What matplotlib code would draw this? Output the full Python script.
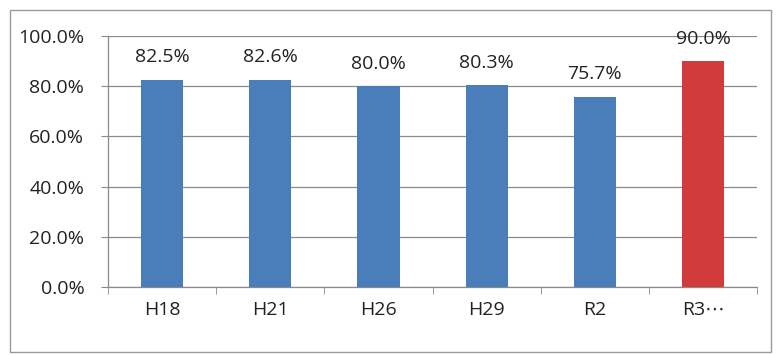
import matplotlib
matplotlib.use('Agg')
import matplotlib.pyplot as plt
from matplotlib.patches import Rectangle
from matplotlib.ticker import FuncFormatter, MultipleLocator

# survey years and rates (%)
categories = ['H18', 'H21', 'H26', 'H29', 'R2', 'R3⋯']
values = [82.5, 82.6, 80.0, 80.3, 75.7, 90.0]
bar_colors = ['#4A7EBB'] * 5 + ['#D13B3B']

plt.rcParams['font.family'] = ['Open Sans', 'DejaVu Sans']
FS = 14

fig = plt.figure(figsize=(7.79, 3.55), dpi=100)
fig.patch.set_facecolor('white')
ax = fig.add_axes([0.1386, 0.1915, 0.8334, 0.7071])

x = range(len(categories))
bars = ax.bar(x, values, width=0.39, color=bar_colors, zorder=3)

for b, v in zip(bars, values):
    ax.text(b.get_x() + b.get_width() / 2, v + 9.0, f'{v:.1f}%',
            ha='center', va='center', fontsize=FS, color='#222222', zorder=4)

ax.set_xlim(-0.5, len(categories) - 0.5)
ax.set_ylim(0, 100)
ax.yaxis.set_major_locator(MultipleLocator(20))
ax.yaxis.set_major_formatter(FuncFormatter(lambda v, _: f'{v:.1f}%'))
ax.set_xticks(list(x))
ax.set_xticklabels(categories)
ax.set_xticks([i + 0.5 for i in range(-1, len(categories))], minor=True)

ax.grid(axis='y', color='#8a8a8a', lw=0.9, zorder=1)
ax.tick_params(axis='y', length=5, color='#8a8a8a', labelsize=FS,
               labelcolor='#222222', pad=12)
ax.tick_params(axis='x', which='major', length=0, labelsize=FS,
               labelcolor='#222222', pad=10)
ax.tick_params(axis='x', which='minor', length=5, color='#8a8a8a')

for side in ['top', 'right']:
    ax.spines[side].set_visible(False)
for side in ['left', 'bottom']:
    ax.spines[side].set_color('#8a8a8a')
    ax.spines[side].set_linewidth(0.9)

# outer chart frame
fig.patches.append(Rectangle((10 / 779, 3 / 355), 761 / 779, 342 / 355,
                             transform=fig.transFigure, fill=False,
                             edgecolor='#9a9a9a', lw=1.0))

fig.savefig('out.png', dpi=100, facecolor='white')
